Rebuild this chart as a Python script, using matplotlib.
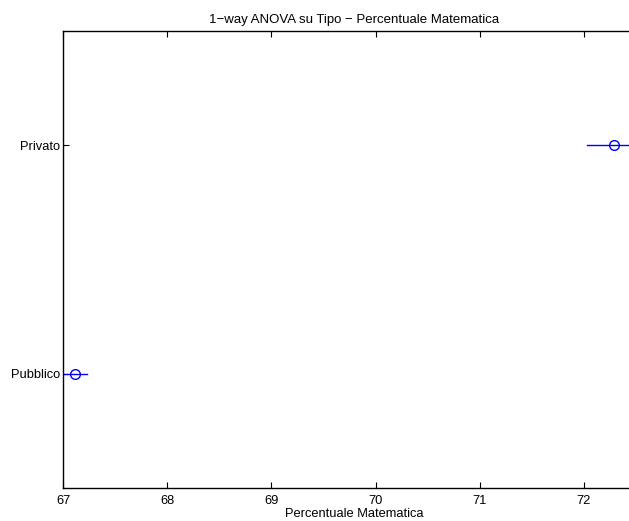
import numpy as np
import matplotlib
matplotlib.use("Agg")
import matplotlib.pyplot as plt

plt.rcParams['font.family'] = ['Liberation Sans', 'DejaVu Sans']

# medie dei gruppi e intervalli di confronto
gruppi = ['Pubblico', 'Privato']
medie = [67.115, 72.29]
semiampiezze = [0.115, 0.26]

fig = plt.figure(figsize=(6.29, 5.21), dpi=100)
# l'asse prosegue oltre il bordo destro della figura
ax = fig.add_axes([0.1002, 0.0633, 0.925, 0.877])

ypos = np.arange(1, len(gruppi) + 1)
for y, m, h in zip(ypos, medie, semiampiezze):
    ax.plot([m - h, m + h], [y, y], color='blue', lw=1)
    ax.plot(m, y, 'o', mfc='none', mec='blue', ms=7, mew=1)

ax.set_xlim(67, 72.585)
ax.set_ylim(0.5, len(gruppi) + 0.5)
ax.set_xticks([67, 68, 69, 70, 71, 72])
ax.set_yticks(ypos)
ax.set_yticklabels(gruppi)
ax.tick_params(direction='in', length=4, width=0.8, labelsize=9.3, top=True, right=False)
ax.tick_params(axis='x', pad=5)
ax.tick_params(axis='y', pad=2)
for s in ax.spines.values():
    s.set_linewidth(1)
ax.spines['right'].set_visible(False)

ax.set_xlabel('Percentuale Matematica', fontsize=9.3, labelpad=1)
ax.set_title('1\u2212way ANOVA su Tipo \u2212 Percentuale Matematica', fontsize=9.5, pad=6)

fig.savefig('out.png', dpi=100)
